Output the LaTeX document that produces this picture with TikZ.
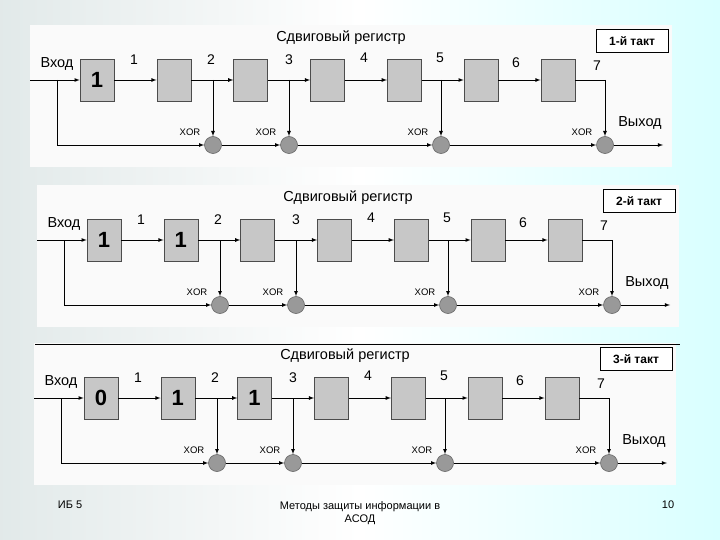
\documentclass[tikz,border=0pt]{standalone}
\usepackage{fontspec}
\setmainfont{Liberation Sans}
\newcommand\taktpanel[7]{%
  \begin{scope}[shift={(#2,#3)}]
    \fill[panelfill] (30,25) rectangle (672,167);
    \node[font=\fontsize{14.5}{14.5}\selectfont] (#1title) at (341,38) {Сдвиговый регистр};
    \foreach \i/\b in {1/#4,2/#5,3/#6,4/{},5/{},6/{},7/{}}
      \node[reg] (#1b\i) at ({97+76.8*(\i-1)},80) {\b};
    \foreach \i/\n in {2/3,3/4,4/5,5/6,6/7}
      \draw[->] (#1b\i) -- (#1b\n);
    \draw[->] (#1b1) -- (#1b2);
    \coordinate (#1in) at (30,80);
    \coordinate (#1f) at (57,80);
    \coordinate (#1g) at (57,145);
    \coordinate (#1out) at (663,145);
    \draw[->] (#1in) -- (#1b1);
    \foreach \k/\x in {2/213,3/289,5/441,7/605}{
      \node[xorc] (#1x\k) at (\x,145) {};
      \coordinate (#1t\k) at (\x,80);
      \node[xorlbl] at (\x-23,132) {XOR};
    }
    \draw (#1b7) -- (#1t7);
    \foreach \k in {2,3,5,7}
      \draw[->] (#1t\k) -- (#1x\k);
    \draw[->] (#1f) -- (#1g) -- (#1x2);
    \draw[->] (#1x2) -- (#1x3);
    \draw[->] (#1x3) -- (#1x5);
    \draw[->] (#1x5) -- (#1x7);
    \draw[->] (#1x7) -- (#1out);
    \foreach \k/\x/\y in {1/134/60,2/211/60,3/289/60,4/364/58,5/440/58,6/516/63,7/597/66}
      \node[num] at (\x,\y) {\k};
    \node[txt] (#1vhod) at (57,64) {Вход};
    \node[txt] (#1vyhod) at (640,123) {Выход};
    \node[takt] (#1takt) at (632,41) {#7};
  \end{scope}}
\begin{document}
\begin{tikzpicture}[x=1pt,y=-1pt,>=latex,line width=0.8pt,
    panelfill/.style={fill=white!96!gray},
    reg/.style={draw=black!70,line width=0.6pt,fill=black!22,minimum width=34pt,minimum height=42pt,inner sep=0pt,font=\fontsize{22}{22}\selectfont\bfseries},
    xorc/.style={circle,draw=black!60,fill=black!40,line width=0.6pt,minimum size=17pt,inner sep=0pt},
    xorlbl/.style={font=\fontsize{9.5}{9.5}\selectfont},
    num/.style={font=\fontsize{14}{14}\selectfont},
    txt/.style={font=\fontsize{14.5}{14.5}\selectfont},
    takt/.style={draw,fill=white,line width=0.6pt,minimum width=72pt,minimum height=23pt,font=\fontsize{12}{12}\selectfont\bfseries}]
  \useasboundingbox (0,0) rectangle (720,540);
  \shade[left color=cyan!15!gray!20,right color=cyan!15,middle color=white] (0,0) rectangle (720,540);
  \taktpanel{p}{0}{0}{1}{}{}{1-й такт}
  \taktpanel{q}{7}{160}{1}{1}{}{2-й такт}
  \taktpanel{r}{4}{318}{0}{1}{1}{3-й такт}
  \draw (35,344) -- (680,344);
  \node[font=\fontsize{11}{11}\selectfont] (ib) at (70,505) {ИБ 5};
  \node[font=\fontsize{11}{13}\selectfont,align=center] (foot) at (360,513) {Методы защиты информации в\\АСОД};
  \node[font=\fontsize{11}{11}\selectfont] (page) at (668,505) {10};
\end{tikzpicture}
\end{document}
